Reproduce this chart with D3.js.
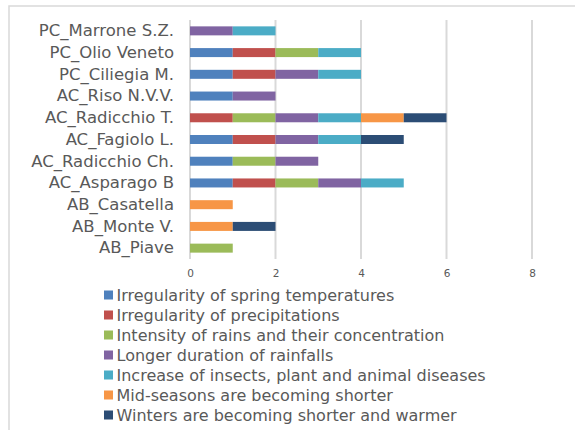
<!DOCTYPE html>
<html><head><meta charset="utf-8">
<script src="https://cdn.jsdelivr.net/npm/d3@7/dist/d3.min.js"></script>
<style>body{margin:0;background:#fff}svg{display:block}text{font-family:"DejaVu Sans",Verdana,sans-serif;fill:#595959}</style>
</head><body><svg id="c" width="575" height="430"></svg>
<script>
const categories = ["PC_Marrone S.Z.","PC_Olio Veneto","PC_Ciliegia M.","AC_Riso N.V.V.","AC_Radicchio T.","AC_Fagiolo L.","AC_Radicchio Ch.","AC_Asparago B","AB_Casatella","AB_Monte V.","AB_Piave"];
const seriesNames = ["Irregularity of spring temperatures","Irregularity of precipitations","Intensity of rains and their concentration","Longer duration of rainfalls","Increase of insects, plant and animal diseases","Mid-seasons are becoming shorter","Winters are becoming shorter and warmer"];
const colors = ["#4f81bd","#c0504d","#9bbb59","#8064a2","#4bacc6","#f79646","#2c4d75"];
const springTemp   = [0,1,1,1,0,1,1,1,0,0,0];
const precip       = [0,1,1,0,1,1,0,1,0,0,0];
const intensity    = [0,1,0,0,1,0,1,1,0,0,1];
const duration     = [1,0,1,1,1,1,1,1,0,0,0];
const insects      = [1,1,1,0,1,1,0,1,0,0,0];
const midSeasons   = [0,0,0,0,1,0,0,0,1,1,0];
const winters      = [0,0,0,0,1,1,0,0,0,1,0];
const xTicks = [0,2,4,6,8];
const seriesValues = [springTemp,precip,intensity,duration,insects,midSeasons,winters];
const FONT = '"DejaVu Sans",Verdana,sans-serif';

const svg = d3.select("#c");
svg.append("rect").attr("x",9).attr("y",6).attr("width",580).attr("height",440).attr("fill","#fff").attr("stroke","#d9d9d9").attr("stroke-width",1.5);

const x = d3.scaleLinear().domain([0,8]).range([190,532]);
const y = d3.scaleBand().domain(categories).range([20,259]).paddingInner(0.6).paddingOuter(0.3);

svg.append("g").selectAll("line").data(xTicks).join("line")
  .attr("x1",d=>x(d)).attr("x2",d=>x(d)).attr("y1",20).attr("y2",259)
  .attr("stroke","#d9d9d9").attr("stroke-width",2);

const rows = categories.map((c,i)=>{const o={cat:c}; seriesNames.forEach((s,j)=>o[s]=seriesValues[j][i]); return o;});
const stack = d3.stack().keys(seriesNames)(rows);

const bw = 9;
svg.append("g").selectAll("g").data(stack).join("g").attr("fill",(d,i)=>colors[i])
  .selectAll("rect").data(d=>d.filter(p=>p[1]-p[0]>0)).join("rect")
  .attr("x",d=>x(d[0])).attr("width",d=>x(d[1])-x(d[0]))
  .attr("y",d=>y(d.data.cat)+y.bandwidth()/2-bw/2).attr("height",bw);

const xa = svg.append("g").attr("transform","translate(0,260)").call(d3.axisBottom(x).tickValues(xTicks).tickSize(0).tickPadding(10));
xa.select(".domain").remove();
xa.selectAll("text").style("font-family",FONT).style("font-size","10.5px").attr("fill","#595959");

const ya = svg.append("g").attr("transform","translate(190,0)").call(d3.axisLeft(y).tickSize(0).tickPadding(16));
ya.select(".domain").remove();
ya.selectAll("text").style("font-family",FONT).style("font-size","16.5px").attr("fill","#595959");

const lg = svg.append("g").selectAll("g").data(seriesNames).join("g")
  .attr("transform",(d,i)=>`translate(104,${295+i*20})`);
lg.append("rect").attr("x",0).attr("y",-4.5).attr("width",9).attr("height",9).attr("fill",(d,i)=>colors[i]);
lg.append("text").attr("x",12.5).attr("dy","0.35em").style("font-family",FONT).style("font-size","16px").text(d=>d);
</script></body></html>
